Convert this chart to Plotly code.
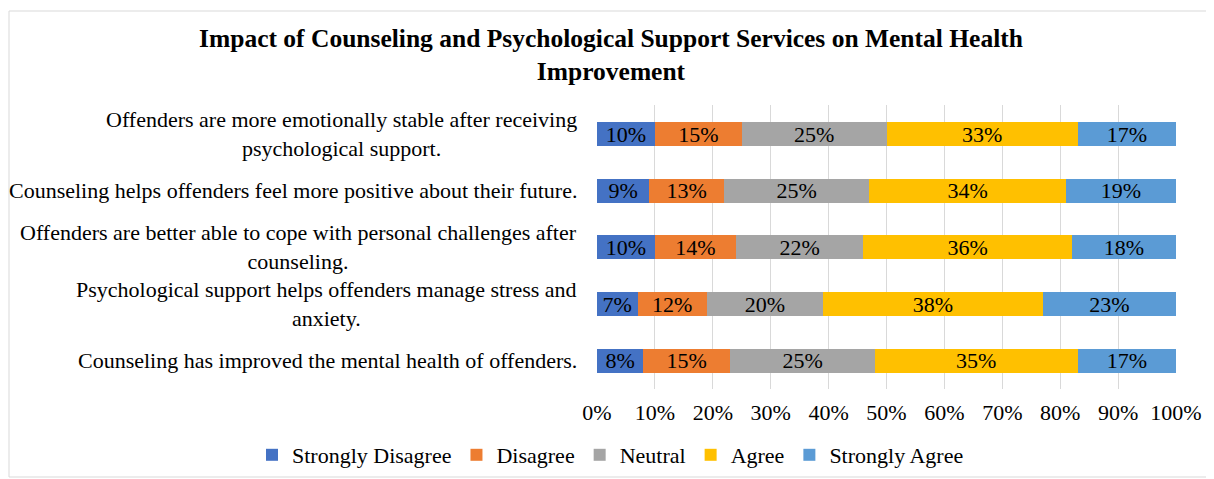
import plotly.graph_objects as go

# page body has an 8px margin, so the figure starts at (8, 8) in the window
OFF = 8
W, H = 1214, 479

STATEMENTS = [
    "Offenders are more emotionally stable after receiving<br>psychological support.",
    "Counseling helps offenders feel more positive about their future.",
    "Offenders are better able to cope with personal challenges after<br>counseling.",
    "Psychological support helps offenders manage stress and<br>anxiety.",
    "Counseling has improved the mental health of offenders.",
]

STRONGLY_DISAGREE = [10, 9, 10, 7, 8]
DISAGREE = [15, 13, 14, 12, 15]
NEUTRAL = [25, 25, 22, 20, 25]
AGREE = [33, 34, 36, 38, 35]
STRONGLY_AGREE = [17, 19, 18, 23, 17]

SERIES = [
    ("Strongly Disagree", STRONGLY_DISAGREE, "#4472C4"),
    ("Disagree", DISAGREE, "#ED7D31"),
    ("Neutral", NEUTRAL, "#A5A5A5"),
    ("Agree", AGREE, "#FFC000"),
    ("Strongly Agree", STRONGLY_AGREE, "#5B9BD5"),
]

FONT = "Liberation Serif, Times New Roman, serif"
FS = 22

# plot area in window pixels
L, R, T, B = 597 - OFF, 1176 - OFF, 105 - OFF, 389 - OFF

fig = go.Figure()
for name, vals, color in SERIES:
    fig.add_trace(go.Bar(
        y=STATEMENTS,
        x=vals,
        name=name,
        orientation="h",
        marker=dict(color=color, line=dict(width=0)),
        text=[f"{v}%" for v in vals],
        textposition="inside",
        insidetextanchor="middle",
        textfont=dict(family=FONT, size=FS, color="#000000"),
        constraintext="none",
    ))

pw, ph = R - L, B - T


def px_x(p):
    return (p - OFF - L) / pw


def px_y(p):
    return (B - (p - OFF)) / ph


# category labels as annotations so wrapped lines are centred like the original
annotations = [
    dict(text=s, x=px_x(579), xref="paper", y=s, yref="y",
         xanchor="right", yanchor="middle", align="center", showarrow=False,
         font=dict(family=FONT, size=FS, color="#000000"))
    for s in STATEMENTS
]

fig.update_layout(
    template="none",
    barmode="stack",
    bargap=0.58,
    width=W,
    height=H,
    margin=dict(l=L, r=W - R, t=T, b=H - B, autoexpand=False),
    paper_bgcolor="white",
    plot_bgcolor="white",
    font=dict(family=FONT, size=FS, color="#000000"),
    title=dict(
        text="<b>Impact of Counseling and Psychological Support Services on Mental Health<br>Improvement</b>",
        x=(611 - OFF) / W,
        xanchor="center",
        y=1 - 39 / H,
        yanchor="top",
        font=dict(family=FONT, size=25.5, color="#000000"),
    ),
    xaxis=dict(
        range=[0, 100],
        tickvals=list(range(0, 101, 10)),
        ticktext=[f"{v}%" for v in range(0, 101, 10)],
        showgrid=True,
        gridcolor="#D9D9D9",
        gridwidth=1,
        zeroline=False,
        showline=False,
        ticks="",
        ticklabelstandoff=8,
        automargin=False,
        tickfont=dict(family=FONT, size=FS),
    ),
    yaxis=dict(
        autorange="reversed",
        showgrid=False,
        showline=False,
        showticklabels=False,
        ticks="",
        automargin=False,
    ),
    annotations=annotations,
    showlegend=True,
    legend=dict(
        orientation="h",
        x=px_x(252),
        xanchor="left",
        y=px_y(455),
        yanchor="middle",
        font=dict(family=FONT, size=FS),
        itemwidth=30,
        traceorder="normal",
        bgcolor="rgba(0,0,0,0)",
    ),
    shapes=[dict(
        type="rect", xref="paper", yref="paper",
        x0=px_x(9), x1=px_x(W - 3), y0=px_y(H - 2), y1=px_y(11),
        line=dict(color="#D9D9D9", width=1), fillcolor="rgba(0,0,0,0)",
        layer="below",
    )],
)

fig.write_html("out.html")
